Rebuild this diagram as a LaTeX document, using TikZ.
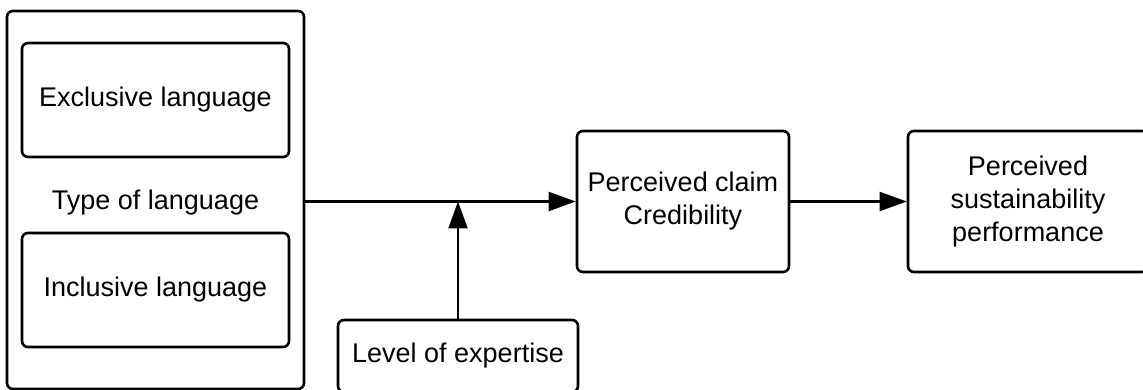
\documentclass[tikz,border=0pt]{standalone}
\usepackage{fontspec}
\setmainfont{Liberation Sans}
\usetikzlibrary{arrows.meta}

\begin{document}
\begin{tikzpicture}[x=1pt, y=-1pt,
	box/.style={draw, line width=2.6pt, rounded corners=6pt, inner sep=0pt, align=center, font=\fontsize{27}{33}\selectfont},
	arr/.style={line width=2.2pt, -{Triangle[length=27pt, width=19pt]}}]
	\useasboundingbox (0,0) rectangle (1143,390);

	\node[box, minimum width=297pt, minimum height=378pt] (lang) at (155.5,200) {};
	\node[box, minimum width=267pt, minimum height=114pt] (excl) at (155.5,100) {Exclusive language};
	\node[box, minimum width=267pt, minimum height=114pt] (incl) at (155.5,290) {Inclusive language};
	\node[font=\fontsize{27}{33}\selectfont] (type) at (155.5,203) {Type of language};

	\node[box, minimum width=212pt, minimum height=141pt] (claim) at (683,201.5) {Perceived claim\\Credibility};
	\node[box, minimum width=240pt, minimum height=141pt] (perf) at (1028,201.5) {Perceived\\sustainability\\performance};
	\node[box, minimum width=240pt, minimum height=72pt] (expert) at (458,356) {Level of expertise};

	\draw[arr] (lang.east |- claim.west) -- (claim.west);
	\draw[arr] (expert.north) -- (expert.north |- claim.west);
	\draw[arr] (claim.east) -- (perf.west);

\end{tikzpicture}
\end{document}
